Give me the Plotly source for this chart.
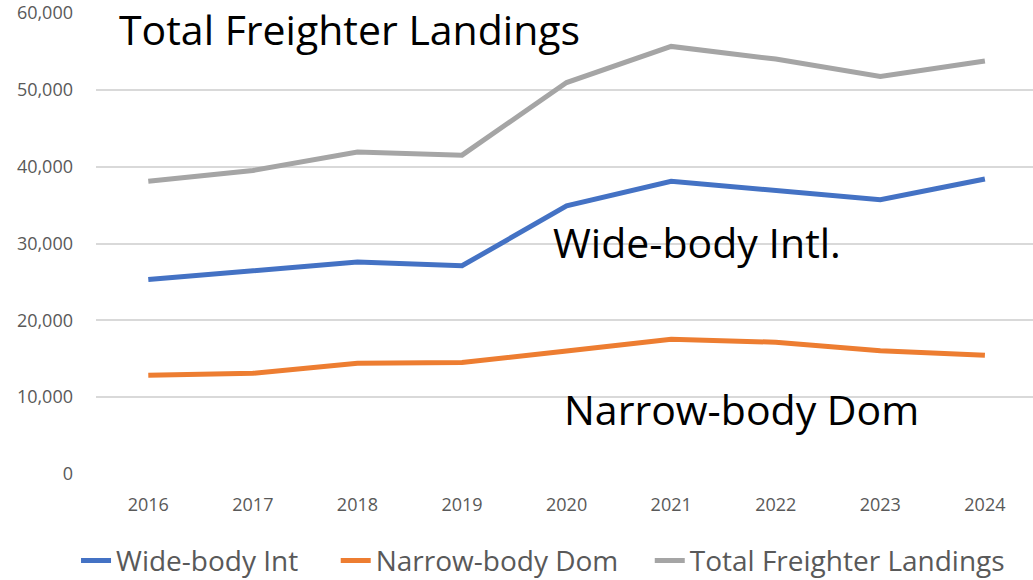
import plotly.graph_objects as go

years = [2016, 2017, 2018, 2019, 2020, 2021, 2022, 2023, 2024]
wide_body_intl = [25300, 26400, 27600, 27100, 34900, 38100, 36900, 35700, 38400]
narrow_body_dom = [12850, 13100, 14400, 14500, 16000, 17550, 17150, 16050, 15450]
total_freighter = [38100, 39500, 41900, 41500, 50950, 55650, 54000, 51750, 53750]

series_names = ["Wide-body Int", "Narrow-body Dom", "Total Freighter Landings"]
series_values = [wide_body_intl, narrow_body_dom, total_freighter]
colors = ["#4472C4", "#ED7D31", "#A5A5A5"]
legend_ids = ["legend", "legend2", "legend3"]
legend_x = [0.0736, 0.325, 0.629]

fig = go.Figure()
for name, vals, col, lg in zip(series_names, series_values, colors, legend_ids):
    fig.add_trace(go.Scatter(x=years, y=vals, mode="lines", name=name,
                             line=dict(color=col, width=5), legend=lg))

tick_font = dict(family="Open Sans, Liberation Sans, sans-serif", size=18, color="#595959")
legend_font = dict(family="Open Sans, sans-serif", size=28, color="#595959")

legends = {}
for lg, lx in zip(legend_ids, legend_x):
    legends[lg] = dict(orientation="h", xref="container", x=lx, xanchor="left",
                       yref="container", y=0.033, yanchor="middle",
                       font=legend_font, bgcolor="rgba(0,0,0,0)")

fig.update_layout(
    width=1033, height=580,
    margin=dict(l=96, r=0, t=13, b=106, autoexpand=False),
    plot_bgcolor="white", paper_bgcolor="white",
    showlegend=True,
    xaxis=dict(range=[2015.5, 2024.46], tickvals=years, ticktext=[str(y) for y in years],
               showgrid=False, zeroline=False, showline=False, tickfont=tick_font,
               ticks="", ticklabelstandoff=18, automargin=False),
    yaxis=dict(range=[0, 60000], dtick=10000, tickformat=",", showgrid=True,
               gridcolor="#D9D9D9", gridwidth=1.5, zeroline=False, showline=False,
               tickfont=tick_font, ticks="", ticklabelstandoff=22, automargin=False),
    font=dict(family="Open Sans, sans-serif"),
    **legends,
)

ann_font = dict(family="Open Sans, Liberation Sans, sans-serif", size=41, color="black")
fig.add_annotation(text="Total Freighter Landings", x=2017.92, y=57900, xref="x", yref="y",
                   showarrow=False, font=ann_font)
fig.add_annotation(text="Wide-body Intl.", x=2021.25, y=30200, xref="x", yref="y",
                   showarrow=False, font=ann_font)
fig.add_annotation(text="Narrow-body Dom", x=2021.67, y=8460, xref="x", yref="y",
                   showarrow=False, font=ann_font)

# remove the default 8px body margin so the figure fills the window exactly
fig.write_html("out.html", config={"displayModeBar": False},
               post_script="document.body.style.margin='0';")
